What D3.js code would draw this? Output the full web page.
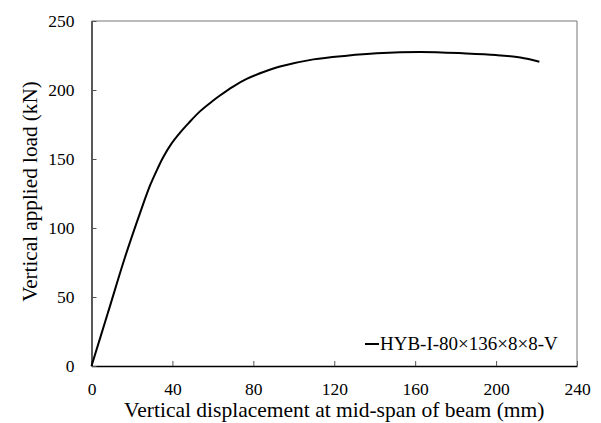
<!DOCTYPE html>
<html>
<head>
<meta charset="utf-8">
<script src="https://cdn.jsdelivr.net/npm/d3@7"></script>
<style>
  body { margin: 0; background: #fff; }
  text { font-family: "Liberation Serif", "Times New Roman", serif; fill: #000; }
</style>
</head>
<body>
<div id="chart"></div>
<script>
// displacement (mm) and load (kN)
var dispMM = [0, 8, 16.6, 24.5, 29, 32.5, 35.5, 39.7, 44, 48, 53.6, 59.4, 63.5, 70, 76.7, 85, 93.2, 109.7, 126.2, 141, 162.5, 185, 200, 212, 221.4];
var loadKN = [0, 38, 79, 113, 131, 142.5, 151.5, 161.5, 169.5, 176, 184.5, 191.5, 196, 202.5, 208, 213, 217, 222.2, 224.9, 226.6, 227.6, 226.5, 225.3, 223.5, 220.5];
var xTicks = [0, 40, 80, 120, 160, 200, 240];
var yTicks = [0, 50, 100, 150, 200, 250];
var seriesName = "HYB-I-80×136×8×8-V";

var width = 601, height = 423;
var margin = { left: 91.5, right: 24, top: 21, bottom: 57 };

var svg = d3.select('#chart').append('svg')
    .attr('width', width)
    .attr('height', height);

var x = d3.scaleLinear().domain([0, 240]).range([margin.left, width - margin.right]);
var y = d3.scaleLinear().domain([0, 250]).range([height - margin.bottom, margin.top]);

// frame: top and right in grey
svg.append('line')
    .attr('x1', x(0)).attr('x2', x(240))
    .attr('y1', y(250)).attr('y2', y(250))
    .style('stroke', '#777').style('stroke-width', 1);
svg.append('line')
    .attr('x1', x(240)).attr('x2', x(240))
    .attr('y1', y(250)).attr('y2', y(0))
    .style('stroke', '#777').style('stroke-width', 1);

// ticks point inward
var xAxis = svg.append('g')
    .attr('transform', 'translate(0,' + y(0) + ')')
    .call(d3.axisBottom(x).tickValues(xTicks).tickSizeInner(-5).tickSizeOuter(0).tickPadding(17));
var yAxis = svg.append('g')
    .attr('transform', 'translate(' + x(0) + ',0)')
    .call(d3.axisLeft(y).tickValues(yTicks).tickSizeInner(-5).tickSizeOuter(0).tickPadding(17));

[xAxis, yAxis].forEach(function(a) {
    a.select('.domain').style('stroke', '#000').style('stroke-width', 1.3);
    a.selectAll('.tick line').style('stroke', '#555');
    a.selectAll('.tick text')
        .style('font-family', '"Liberation Serif", serif')
        .style('font-size', '17.5px')
        .style('fill', '#000');
});
xAxis.selectAll('.tick text').attr('dy', '0.71em');

// axis titles
svg.append('text')
    .attr('x', (x(0) + x(240)) / 2)
    .attr('y', 417)
    .attr('text-anchor', 'middle')
    .style('font-size', '21.5px')
    .text('Vertical displacement at mid-span of beam (mm)');
svg.append('text')
    .attr('transform', 'translate(37,191.5) rotate(-90)')
    .attr('text-anchor', 'middle')
    .style('font-size', '21.2px')
    .text('Vertical applied load (kN)');

// curve
var pts = dispMM.map(function(d, i) { return [d, loadKN[i]]; });
var line = d3.line()
    .x(function(d) { return x(d[0]); })
    .y(function(d) { return y(d[1]); })
    .curve(d3.curveCatmullRom.alpha(0.5));
svg.append('path')
    .datum(pts)
    .attr('d', line)
    .style('fill', 'none')
    .style('stroke', '#000')
    .style('stroke-width', 2);

// legend
var lg = svg.append('g').attr('transform', 'translate(365,344)');
lg.append('line')
    .attr('x1', 0).attr('x2', 14)
    .style('stroke', '#000').style('stroke-width', 2);
lg.append('text')
    .attr('x', 15)
    .attr('y', 5.5)
    .style('font-size', '19px')
    .text(seriesName);
</script>
</body>
</html>
